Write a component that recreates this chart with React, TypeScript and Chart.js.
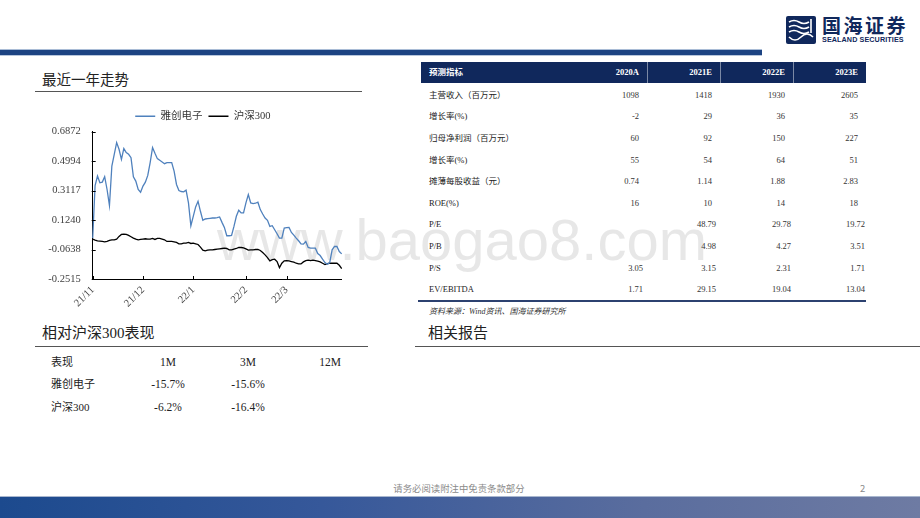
import React, { useEffect, useRef } from 'react';
import { Chart, registerables } from 'chart.js';

Chart.register(...registerables);

// ---------- data ----------
const monthLabels = ['21/11', '21/12', '22/1', '22/2', '22/3'];
const monthStartIndex = [0, 21, 42, 64, 81];
const yTickValues = [-0.2515, -0.0638, 0.124, 0.3117, 0.4994, 0.6872];
const stockName = '雅创电子';
const indexName = '沪深300';

const stockSeries = [
  0.0088, 0.3437, 0.4035, 0.3608, 0.3651, 0.3992, 0.3181, 0.2157, 0.4675, 0.5421,
  0.6168, 0.5741, 0.5101, 0.5784, 0.5528, 0.5421, 0.5208, 0.3992, 0.3715, 0.3181,
  0.3011, 0.3395, 0.3651, 0.4077, 0.4888, 0.5848, 0.5485, 0.5144, 0.5037, 0.4931,
  0.4824, 0.4888, 0.4888, 0.4888, 0.4355, 0.3501, 0.3117, 0.3053, 0.3032, 0.3139,
  0.2328, 0.0877, 0.1474, 0.2072, 0.2435, 0.1795, 0.1218, 0.1304, 0.1325, 0.1346,
  0.1368, 0.1368, 0.1389, 0.1432, 0.109, 0.077, 0.0237, 0.0237, 0.0258, 0.0834,
  0.1474, 0.1859, 0.1688, 0.1688, 0.2328, 0.2861, 0.2328, 0.2285, 0.2307, 0.2371,
  0.1901, 0.1624, 0.1368, 0.1218, 0.0834, 0.0877, 0.0621, 0.0365, 0.0088, 0.0088,
  0.0728, 0.0749, 0.077, 0.045, 0.028, 0.0088, -0.0083, -0.0275, -0.0296, -0.0126,
  -0.051, -0.0552, -0.0552, -0.0552, -0.0894, -0.1022, -0.1256, -0.147, -0.1576, -0.147,
  -0.0659, -0.0446, -0.0446, -0.0766, -0.0915,
];

const indexSeries = [
  0.0024, -0.004, -0.0083, -0.0104, -0.0126, -0.0147, -0.0126, -0.0062, -0.0019, -0.0019,
  0.0024, 0.0194, 0.0322, 0.0344, 0.0322, 0.0258, 0.0173, 0.0088, 0.0024, -0.0019,
  0.0002, 0.0024, 0.0045, 0.0024, 0.0024, 0.0066, 0.0002, 0.0066, 0.0066, 0.0024,
  -0.0019, -0.0126, -0.0126, -0.0126, -0.0147, -0.019, -0.0275, -0.0275, -0.0232, -0.0232,
  -0.019, -0.0254, -0.0232, -0.0275, -0.0318, -0.0488, -0.068, -0.0723, -0.068, -0.0659,
  -0.0659, -0.0638, -0.0616, -0.0595, -0.0574, -0.0552, -0.0574, -0.0659, -0.0659, -0.0616,
  -0.0574, -0.051, -0.051, -0.0531, -0.0595, -0.068, -0.0659, -0.0659, -0.0638, -0.0638,
  -0.0702, -0.083, -0.0979, -0.115, -0.1363, -0.1278, -0.1256, -0.1406, -0.179, -0.1512,
  -0.1363, -0.1342, -0.1363, -0.1406, -0.1448, -0.1512, -0.1555, -0.1555, -0.1427, -0.1342,
  -0.132, -0.1342, -0.132, -0.1342, -0.1384, -0.1427, -0.1512, -0.1598, -0.1534, -0.1512,
  -0.1512, -0.1512, -0.1512, -0.164, -0.1854,
];

const perfHeader = ['表现', '1M', '3M', '12M'];
const perfNames = ['雅创电子', '沪深300'];
const perfValues = [
  ['-15.7%', '-15.6%', ''],
  ['-6.2%', '-16.4%', ''],
];

const forecastHeader = ['预测指标', '2020A', '2021E', '2022E', '2023E'];
const forecastLabels = [
  '主营收入（百万元）', '增长率(%)', '归母净利润（百万元）', '增长率(%)', '摊薄每股收益（元）',
  'ROE(%)', 'P/E', 'P/B', 'P/S', 'EV/EBITDA',
];
const forecastValues = [
  ['1098', '1418', '1930', '2605'],
  ['-2', '29', '36', '35'],
  ['60', '92', '150', '227'],
  ['55', '54', '64', '51'],
  ['0.74', '1.14', '1.88', '2.83'],
  ['16', '10', '14', '18'],
  ['', '48.79', '29.78', '19.72'],
  ['', '4.98', '4.27', '3.51'],
  ['3.05', '3.15', '2.31', '1.71'],
  ['1.71', '29.15', '19.04', '13.04'],
];

// ---------- styles ----------
const FONT = "'Liberation Serif', 'Times New Roman', 'Noto Sans CJK SC', serif";
const SANS = "'Noto Sans CJK SC', 'Liberation Sans', sans-serif";
const NAVY = '#10285c';

const xLabels = stockSeries.map((_, i) => {
  const k = monthStartIndex.indexOf(i);
  return k >= 0 ? monthLabels[k] : '';
});

const innerTicks = {
  id: 'innerTicks',
  afterDraw(chart: any) {
    const ctx = chart.ctx;
    const xs = chart.scales.x;
    const ys = chart.scales.y;
    ctx.save();
    ctx.strokeStyle = '#000';
    ctx.lineWidth = 1;
    ctx.beginPath();
    xs.ticks.forEach((_t: any, i: number) => {
      const px = Math.round(xs.getPixelForTick(i)) + 0.5;
      ctx.moveTo(px, ys.bottom);
      ctx.lineTo(px, ys.bottom - 3);
    });
    ys.ticks.forEach((_t: any, i: number) => {
      const py = Math.round(ys.getPixelForTick(i)) + 0.5;
      ctx.moveTo(xs.left - 1, py);
      ctx.lineTo(xs.left + 3, py);
    });
    ctx.stroke();
    ctx.restore();
  },
};

// shift the legend so it sits centred over the plot, as in the reference
const legendShift = {
  id: 'legendShift',
  afterLayout(chart: any) {
    const lg = chart.legend;
    if (lg) {
      lg.left += 17;
      lg.right += 17;
    }
  },
};

function TrendChart() {
  const ref = useRef<HTMLCanvasElement | null>(null);
  useEffect(() => {
    if (!ref.current) return;
    const chart = new Chart(ref.current, {
      type: 'line',
      data: {
        labels: xLabels,
        datasets: [
          {
            label: stockName,
            data: stockSeries,
            borderColor: '#4f81bd',
            backgroundColor: '#4f81bd',
            borderWidth: 1.3,
            pointRadius: 0,
            tension: 0,
          },
          {
            label: indexName,
            data: indexSeries,
            borderColor: '#000000',
            backgroundColor: '#000000',
            borderWidth: 1.3,
            pointRadius: 0,
            tension: 0,
          },
        ],
      },
      options: {
        animation: false,
        responsive: false,
        devicePixelRatio: 1,
        layout: { padding: { top: 5, right: 18.3, bottom: 0, left: 0 } },
        plugins: {
          tooltip: { enabled: false },
          legend: {
            display: true,
            position: 'top',
            labels: {
              usePointStyle: true,
              pointStyle: 'line',
              pointStyleWidth: 20,
              padding: 6,
              color: '#333',
              font: { family: FONT, size: 10.5 },
            },
          },
        },
        scales: {
          x: {
            type: 'category',
            grid: { display: false, drawTicks: false },
            border: { display: true, color: '#000', width: 1 },
            ticks: {
              autoSkip: false,
              maxRotation: 45,
              minRotation: 45,
              padding: 5,
              color: '#404040',
              font: { family: FONT, size: 10.5 },
              callback: (v: any) => xLabels[v as number],
            },
            afterBuildTicks: (s: any) => {
              s.ticks = monthStartIndex.map((i) => ({ value: i }));
            },
            afterFit: (s: any) => {
              s.height = 35;
            },
          },
          y: {
            type: 'linear',
            min: yTickValues[0],
            max: yTickValues[yTickValues.length - 1],
            grid: { display: false, drawTicks: false },
            border: { display: true, color: '#000', width: 1 },
            ticks: {
              padding: 12,
              color: '#404040',
              font: { family: FONT, size: 10.5 },
              callback: (v: any) => Number(v).toFixed(4),
            },
            afterBuildTicks: (s: any) => {
              s.ticks = yTickValues.map((v) => ({ value: v }));
            },
            afterFit: (s: any) => {
              s.width = 62.7;
            },
          },
        },
      } as any,
      plugins: [innerTicks, legendShift],
    });
    return () => chart.destroy();
  }, []);
  return (
    <canvas
      ref={ref}
      width={330}
      height={214}
      style={{ position: 'absolute', left: 30, top: 100, width: 330, height: 214 }}
    />
  );
}

const abs = (o: React.CSSProperties): React.CSSProperties => ({ position: 'absolute', whiteSpace: 'nowrap', ...o });

function Logo() {
  return (
    <>
      <svg style={abs({ left: 786, top: 16, width: 30, height: 28 })} viewBox="0 0 30 28">
        <rect x="0" y="0" width="30" height="28" rx="2" fill={NAVY} />
        <path d="M3 6 Q8 3 13 6 T23 6" stroke="#fff" strokeWidth="1.6" fill="none" />
        <path d="M3 11 Q8 8 13 11 T23 11" stroke="#fff" strokeWidth="1.6" fill="none" />
        <path d="M3 16 Q8 13 13 16 T23 16" stroke="#fff" strokeWidth="1.6" fill="none" />
        <path d="M3 21 Q9 27 15 21 T27 21" stroke="#fff" strokeWidth="1.6" fill="none" />
        <path d="M25 3 L25 17" stroke="#fff" strokeWidth="1.6" />
      </svg>
      <div style={abs({ left: 822, top: 14, fontFamily: SANS, fontWeight: 700, fontSize: 19, letterSpacing: 2.5, color: NAVY, lineHeight: '22px' })}>
        国海证券
      </div>
      <div style={abs({ left: 822, top: 35, fontFamily: "'Liberation Sans', sans-serif", fontWeight: 700, fontSize: 7.2, color: NAVY, lineHeight: '9px', letterSpacing: 0.1 })}>
        SEALAND SECURITIES
      </div>
    </>
  );
}

export default function App() {
  const perfCols = [168, 248, 330];
  const perfRowsY = [361.5, 384, 406.5];
  const colRight = [639, 712, 785, 858];
  const colRightAlt = [643, 716, 791, 865];
  const rowTop = 84;
  const rowH = 21.6;
  return (
    <div style={{ position: 'absolute', left: 0, top: 0, width: 920, height: 518, background: '#fff', overflow: 'hidden', fontFamily: FONT, color: '#222' }}>
      {/* watermark */}
      <div style={abs({ left: 217, top: 211, fontFamily: "'Liberation Sans', sans-serif", fontSize: 58, lineHeight: '58px', color: 'rgba(170,170,170,0.28)' })}>
        www.baogao8.com
      </div>

      {/* header */}
      <Logo />
      <div style={abs({ left: 0, top: 49, width: 762, height: 1, background: '#a9bcd6' })} />
      <div style={abs({ left: 0, top: 50, width: 762, height: 5, background: '#1c4382' })} />
      <div style={abs({ left: 0, top: 55, width: 762, height: 1, background: '#b7c6dc' })} />

      {/* left: trend */}
      <div style={abs({ left: 42, top: 71, fontSize: 14.5, lineHeight: '18px', color: '#222' })}>最近一年走势</div>
      <div style={abs({ left: 35, top: 91, width: 327, height: 1, background: '#555' })} />
      <TrendChart />

      {/* left: relative perf */}
      <div style={abs({ left: 42, top: 324, fontSize: 15, lineHeight: '18px', color: '#222' })}>相对沪深300表现</div>
      <div style={abs({ left: 35, top: 346, width: 333, height: 1, background: '#555' })} />
      <div style={abs({ left: 51, top: perfRowsY[0] - 7, fontSize: 11, lineHeight: '14px' })}>{perfHeader[0]}</div>
      {perfHeader.slice(1).map((h, j) => (
        <div key={h} style={abs({ left: perfCols[j] - 40, width: 80, textAlign: 'center', top: perfRowsY[0] - 7, fontSize: 11.5, lineHeight: '14px' })}>{h}</div>
      ))}
      {perfNames.map((n, r) => (
        <React.Fragment key={n}>
          <div style={abs({ left: 51, top: perfRowsY[r + 1] - 7, fontSize: 11, lineHeight: '14px' })}>{n}</div>
          {perfValues[r].map((v, j) => (
            <div key={j} style={abs({ left: perfCols[j] - 40, width: 80, textAlign: 'center', top: perfRowsY[r + 1] - 7, fontSize: 11.5, lineHeight: '14px' })}>{v}</div>
          ))}
        </React.Fragment>
      ))}

      {/* right: forecast table */}
      <div style={abs({ left: 421, top: 62, width: 445, height: 21, background: NAVY })} />
      {[647, 720, 793].map((x) => (
        <div key={x} style={abs({ left: x, top: 62, width: 1, height: 21, background: 'rgba(255,255,255,0.45)' })} />
      ))}
      <div style={abs({ left: 429, top: 66, fontSize: 8.5, lineHeight: '12px', fontWeight: 700, color: '#fff' })}>{forecastHeader[0]}</div>
      {forecastHeader.slice(1).map((h, j) => (
        <div key={h} style={abs({ left: colRight[j] - 60, width: 60, textAlign: 'right', top: 66, fontSize: 8.5, lineHeight: '12px', fontWeight: 700, color: '#fff' })}>{h}</div>
      ))}
      {forecastLabels.map((lab, r) => {
        const cy = rowTop + rowH * r + rowH / 2;
        const cols = r >= 6 ? colRightAlt : colRight;
        return (
          <React.Fragment key={r}>
            <div style={abs({ left: 429, top: cy - 6, fontSize: 8.5, lineHeight: '12px', color: '#222' })}>{lab}</div>
            {forecastValues[r].map((v, j) => (
              <div key={j} style={abs({ left: cols[j] - 60, width: 60, textAlign: 'right', top: cy - 6, fontSize: 8.5, lineHeight: '12px', color: '#333' })}>{v}</div>
            ))}
          </React.Fragment>
        );
      })}
      <div style={abs({ left: 418, top: 299.5, width: 448, height: 2, background: '#2c4170' })} />
      <div style={abs({ left: 429, top: 306, fontSize: 8, lineHeight: '12px', fontStyle: 'italic', color: '#333' })}>资料来源：Wind资讯、国海证券研究所</div>

      <div style={abs({ left: 428, top: 324, fontSize: 15, lineHeight: '18px', color: '#222' })}>相关报告</div>
      <div style={abs({ left: 415, top: 346, width: 505, height: 1, background: '#555' })} />

      {/* footer */}
      <div style={abs({ left: 0, width: 920, textAlign: 'center', top: 482, fontFamily: SANS, fontSize: 9.4, lineHeight: '12px', color: '#8a8a8a' })}>
        <span style={{ position: 'relative', left: -1 }}>请务必阅读附注中免责条款部分</span>
      </div>
      <div style={abs({ left: 860, top: 482, fontFamily: SANS, fontSize: 9.5, lineHeight: '12px', color: '#8a8a8a' })}>2</div>
      <div style={abs({ left: 0, top: 496, width: 920, height: 1, background: '#a9b7cf' })} />
      <div style={abs({ left: 0, top: 497, width: 920, height: 21, background: 'linear-gradient(90deg, #1c4a8e 0%, #36589a 35%, #5a6d9e 70%, #6e7ba3 100%)' })} />
    </div>
  );
}
